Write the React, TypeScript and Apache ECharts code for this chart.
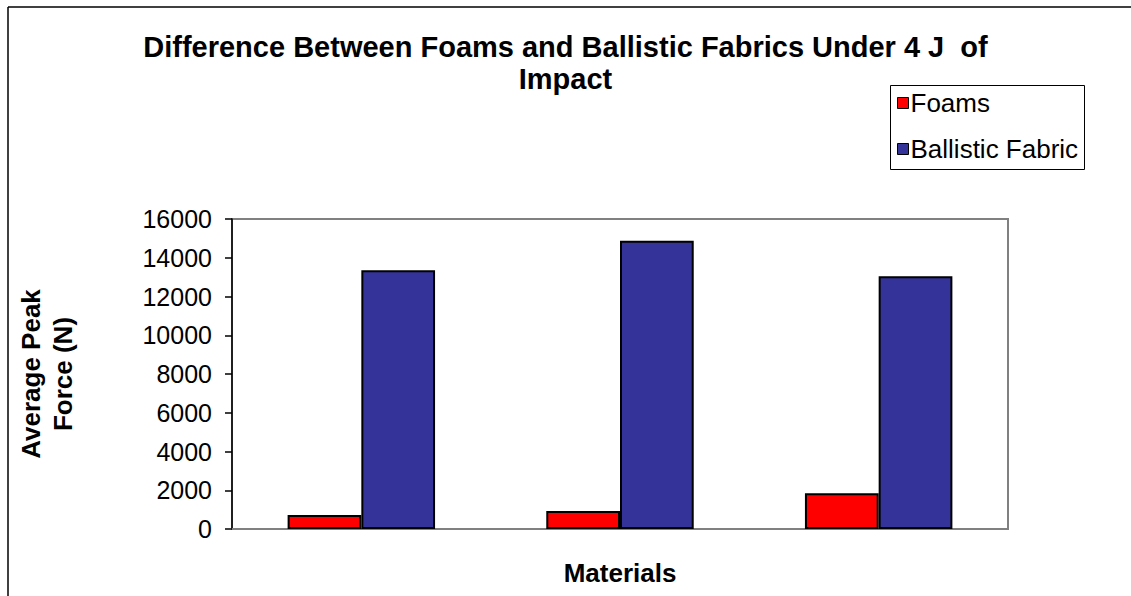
import React, { useEffect, useRef } from "react";
import * as echarts from "echarts";

const categories = ["", "", ""];
const foams = [720, 930, 1840];
const ballisticFabric = [13360, 14880, 13050];
const yTicks = { min: 0, max: 16000, interval: 2000 };
const titleText = "Difference Between Foams and Ballistic Fabrics Under 4 J  of\nImpact";
const yName = "Average Peak\nForce (N)";
const xName = "Materials";
const seriesNames = ["Foams", "Ballistic Fabric"];

const FONT = "'Liberation Sans', Arial, sans-serif";

export default function App() {
  const ref = useRef<HTMLDivElement>(null);
  useEffect(() => {
    if (!ref.current) return;
    const chart = echarts.init(ref.current, undefined, { renderer: "svg" });
    chart.setOption({
      animation: false,
      backgroundColor: "#ffffff",
      textStyle: { fontFamily: FONT },
      title: {
        text: titleText,
        left: "center",
        top: 31,
        padding: 0,
        textStyle: {
          fontFamily: FONT,
          fontSize: 29,
          fontWeight: "bold",
          color: "#000",
          lineHeight: 32,
        },
      },
      legend: {
        orient: "vertical",
        left: 897,
        top: 90,
        padding: 0,
        itemGap: 20,
        itemWidth: 11,
        itemHeight: 11,
        icon: "rect",
        textStyle: {
          fontFamily: FONT,
          fontSize: 26,
          lineHeight: 25,
          color: "#000",
          padding: [0, 0, 0, -3],
        },
        itemStyle: { borderColor: "#000", borderWidth: 1 },
        data: seriesNames,
      },
      grid: {
        left: 232,
        top: 219,
        right: 123,
        bottom: 67,
        containLabel: false,
        outerBoundsMode: "none",
        show: true,
        borderColor: "#808080",
        borderWidth: 2,
        backgroundColor: "#fff",
      },
      xAxis: {
        type: "category",
        data: categories,
        name: xName,
        nameLocation: "middle",
        nameGap: 31,
        nameTextStyle: { fontFamily: FONT, fontSize: 26, fontWeight: "bold", color: "#000" },
        axisLine: { lineStyle: { color: "#808080", width: 2 } },
        axisTick: { show: false },
        axisLabel: { show: false },
      },
      yAxis: {
        type: "value",
        min: yTicks.min,
        max: yTicks.max,
        interval: yTicks.interval,
        name: yName,
        nameLocation: "middle",
        nameRotate: 90,
        nameGap: 153,
        nameTextStyle: {
          fontFamily: FONT,
          fontSize: 26,
          fontWeight: "bold",
          color: "#000",
          lineHeight: 32,
        },
        axisLine: { show: true, lineStyle: { color: "#000", width: 1.5 } },
        axisTick: { show: true, length: 7, lineStyle: { color: "#000", width: 1.5 } },
        axisLabel: {
          fontFamily: FONT,
          fontSize: 25,
          color: "#000",
          margin: 20,
          formatter: (v: number) => String(v),
        },
        splitLine: { show: false },
      },
      series: [
        {
          name: seriesNames[0],
          type: "bar",
          data: foams,
          barGap: "0%",
          barCategoryGap: "43%",
          itemStyle: { color: "#FF0000", borderColor: "#000", borderWidth: 2 },
        },
        {
          name: seriesNames[1],
          type: "bar",
          data: ballisticFabric,
          barGap: "0%",
          barCategoryGap: "43%",
          itemStyle: { color: "#333399", borderColor: "#000", borderWidth: 2 },
        },
      ],
      graphic: [
        {
          type: "line",
          shape: { x1: 8, y1: 7, x2: 1131, y2: 7 },
          style: { stroke: "#000", lineWidth: 1.5 },
        },
        {
          type: "line",
          shape: { x1: 8, y1: 7, x2: 8, y2: 596 },
          style: { stroke: "#000", lineWidth: 1.5 },
        },
        {
          type: "rect",
          shape: { x: 890.5, y: 85.5, width: 194, height: 84 },
          style: { fill: "none", stroke: "#000", lineWidth: 1 },
          z: 0,
        },
      ],
    });
    return () => chart.dispose();
  }, []);
  return (
    <div
      ref={ref}
      style={{ position: "fixed", left: 0, top: 0, width: 1131, height: 596, background: "#fff" }}
    />
  );
}
